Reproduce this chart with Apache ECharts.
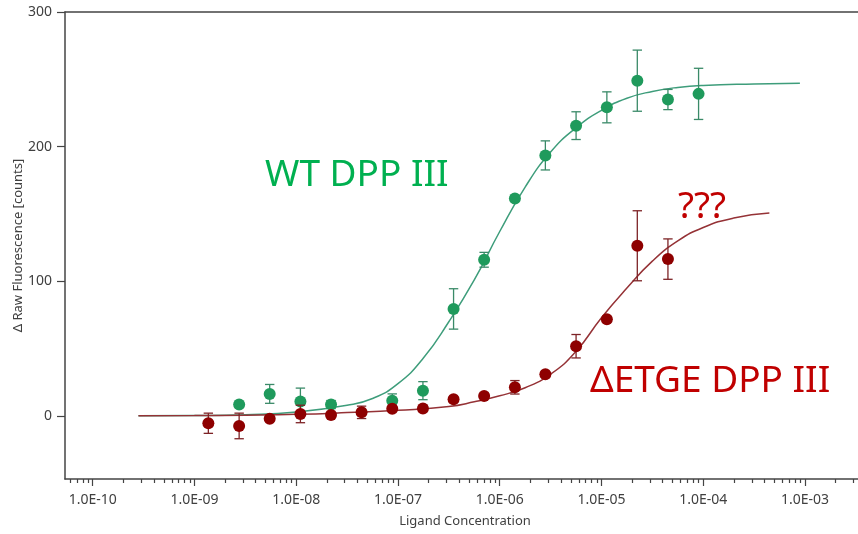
<!DOCTYPE html>
<html>
<head>
<meta charset="utf-8">
<script src="https://cdn.jsdelivr.net/npm/echarts@6/dist/echarts.min.js"></script>
<style>
  html, body { margin: 0; padding: 0; background: #fff; }
  #main { width: 858px; height: 534px; }
</style>
</head>
<body>
<div id="main"></div>
<script>
  // ligand concentrations (M), 2-fold dilution series
  const concM = [1.37e-9, 2.75e-9, 5.49e-9, 1.10e-8, 2.20e-8, 4.39e-8, 8.79e-8, 1.76e-7, 3.52e-7,
    7.03e-7, 1.41e-6, 2.81e-6, 5.63e-6, 1.13e-5, 2.25e-5, 4.50e-5, 9.00e-5]

  // WT DPP III
  const wtSignal = [null, 8.6, 16.4, 10.7, 8.5, null, 11.4, 18.8, 79.5, 116, 161.5, 193.5, 215.6, 229.2, 249, 235, 239.2]
  const wtErr = [0, 0, 7, 10, 3, 0, 5, 6.7, 15, 5.5, 2, 10.8, 10.3, 11.5, 22.7, 7.5, 19]

  // ΔETGE DPP III
  const etgeSignal = [-5.4, -7.4, -2, 1.5, 0.7, 2.7, 5.4, 5.6, 12.4, 14.9, 21.3, 31, 51.8, 71.9, 126.4, 116.5, null]
  const etgeErr = [7.5, 9.5, 2, 6.5, 2, 4.6, 2, 2, 2, 2, 5, 2, 8.7, 2, 26, 15, 0]

  // fitted curves (log10 M, counts)
  const wtFitLogC = [-9.55, -9.0, -8.5, -8.0, -7.5, -7.25, -7.0, -6.75, -6.5, -6.25, -6.0, -5.75, -5.5,
    -5.25, -5.0, -4.75, -4.5, -4.25, -4.0, -3.5, -3.05]
  const wtFitSignal = [0.1, 0.3, 1, 3, 8, 13, 24, 43, 70, 101, 137, 170, 196, 214, 227, 236, 241, 244, 245.5, 246.5, 247]
  const etgeFitLogC = [-9.55, -9.0, -8.5, -8.0, -7.5, -7.0, -6.5, -6.25, -6.0, -5.75, -5.5, -5.25, -5.0,
    -4.75, -4.5, -4.25, -4.0, -3.7, -3.35]
  const etgeFitSignal = [0.2, 0.3, 0.6, 1.2, 2.5, 4.2, 7, 10.5, 15, 21, 31, 48, 73, 95, 115, 130, 140, 147, 150.7]

  // axes
  const xTickExp = [-10, -9, -8, -7, -6, -5, -4, -3]
  const xTickLabels = ['1.0E-10', '1.0E-09', '1.0E-08', '1.0E-07', '1.0E-06', '1.0E-05', '1.0E-04', '1.0E-03']
  const yTicks = [0, 100, 200, 300]

  const X_MIN = -10.272, X_MAX = -2.479
  const Y_MIN = -46.8, Y_MAX = 300

  // minor ticks 2..9 in every decade
  let minorTicks = []
  for (let d = -11; d <= -3; d++) {
    for (let k = 2; k <= 9; k++) {
      let v = d + Math.log10(k)
      if (v > X_MIN && v < X_MAX) minorTicks.push(v)
    }
  }

  function points(sig, err) {
    let out = []
    concM.forEach((c, i) => {
      if (sig[i] !== null) out.push([Math.log10(c), sig[i], err[i]])
    })
    return out
  }
  function fitLine(xs, ys) {
    return xs.map((x, i) => [x, ys[i]])
  }

  const wtPts = points(wtSignal, wtErr)
  const etgePts = points(etgeSignal, etgeErr)

  function errorBars(color) {
    return function (params, api) {
      let x = api.value(0), y = api.value(1), e = api.value(2)
      if (!e) return
      let top = api.coord([x, y + e])
      let bot = api.coord([x, y - e])
      let w = 4.7
      let st = { stroke: color, lineWidth: 1.3 }
      return {
        type: 'group',
        children: [
          { type: 'line', shape: { x1: top[0], y1: top[1], x2: bot[0], y2: bot[1] }, style: st },
          { type: 'line', shape: { x1: top[0] - w, y1: top[1], x2: top[0] + w, y2: top[1] }, style: st },
          { type: 'line', shape: { x1: bot[0] - w, y1: bot[1], x2: bot[0] + w, y2: bot[1] }, style: st }
        ]
      }
    }
  }

  const axisColor = '#444'
  const labelColor = '#404040'
  const font = 'Noto Sans'

  let chart = echarts.init(document.getElementById('main'))
  chart.setOption({
    animation: false,
    backgroundColor: '#fff',
    grid: { left: 65, top: 12, right: 0, bottom: 55, containLabel: false, outerBoundsMode: 'none' },
    xAxis: [
      {
        type: 'value', min: X_MIN, max: X_MAX, position: 'bottom',
        name: 'Ligand Concentration', nameLocation: 'middle', nameGap: 36, nameMoveOverlap: false,
        nameTextStyle: { fontFamily: font, fontSize: 13, color: labelColor, padding: [0, 0, 0, 7] },
        axisLine: { show: true, onZero: false, lineStyle: { color: axisColor, width: 1.5 } },
        axisTick: { show: true, customValues: xTickExp, length: 7, lineStyle: { color: axisColor, width: 1.2 } },
        axisLabel: {
          customValues: xTickExp, margin: 14, fontFamily: font, fontSize: 14, color: labelColor,
          formatter: v => xTickLabels[xTickExp.indexOf(Math.round(v))]
        },
        splitLine: { show: false }
      },
      {
        type: 'value', min: X_MIN, max: X_MAX, position: 'bottom',
        axisLine: { show: false, onZero: false },
        axisTick: { show: true, customValues: minorTicks, length: 4, lineStyle: { color: axisColor, width: 1.2 } },
        axisLabel: { show: false },
        splitLine: { show: false }
      },
      {
        type: 'value', min: X_MIN, max: X_MAX, position: 'top',
        axisLine: { show: true, onZero: false, lineStyle: { color: axisColor, width: 1.5 } },
        axisTick: { show: false },
        axisLabel: { show: false },
        splitLine: { show: false }
      }
    ],
    yAxis: {
      type: 'value', min: Y_MIN, max: Y_MAX,
      name: 'Δ Raw Fluorescence [counts]', nameLocation: 'middle', nameGap: 40, nameMoveOverlap: false,
      nameTextStyle: { fontFamily: font, fontSize: 13, color: labelColor },
      axisLine: { show: true, onZero: false, lineStyle: { color: axisColor, width: 1.5 } },
      axisTick: { show: true, customValues: yTicks, length: 8, lineStyle: { color: axisColor, width: 1.2 } },
      axisLabel: { customValues: yTicks, margin: 13, fontFamily: font, fontSize: 14, color: labelColor },
      splitLine: { show: false }
    },
    series: [
      {
        name: 'WT fit', type: 'line', data: fitLine(wtFitLogC, wtFitSignal), smooth: true,
        showSymbol: false, z: 2, lineStyle: { color: '#3e9d7b', width: 1.5 }
      },
      {
        name: 'ETGE fit', type: 'line', data: fitLine(etgeFitLogC, etgeFitSignal), smooth: true,
        showSymbol: false, z: 2, lineStyle: { color: '#953236', width: 1.5 }
      },
      {
        name: 'WT err', type: 'custom', data: wtPts, renderItem: errorBars('#3a8a68'), z: 3,
        encode: { x: 0, y: 1 }
      },
      {
        name: 'WT', type: 'scatter', data: wtPts, symbolSize: 12, z: 4,
        itemStyle: { color: '#1f9a5c', opacity: 1 }
      },
      {
        name: 'ETGE err', type: 'custom', data: etgePts, renderItem: errorBars('#7d2326'), z: 5,
        encode: { x: 0, y: 1 }
      },
      {
        name: 'ETGE', type: 'scatter', data: etgePts, symbolSize: 12, z: 6,
        itemStyle: { color: '#8e0000', opacity: 1 }
      }
    ],
    graphic: [
      { type: 'text', left: 265, top: 157, style: { text: 'WT DPP III', fontFamily: font, fontSize: 37, fill: '#00b050' } },
      { type: 'text', left: 590, top: 363, style: { text: 'ΔETGE DPP III', fontFamily: font, fontSize: 37, fill: '#c00000' } },
      { type: 'text', left: 678, top: 189, style: { text: '???', fontFamily: font, fontSize: 37, fill: '#c00000' } }
    ]
  })
</script>
</body>
</html>
